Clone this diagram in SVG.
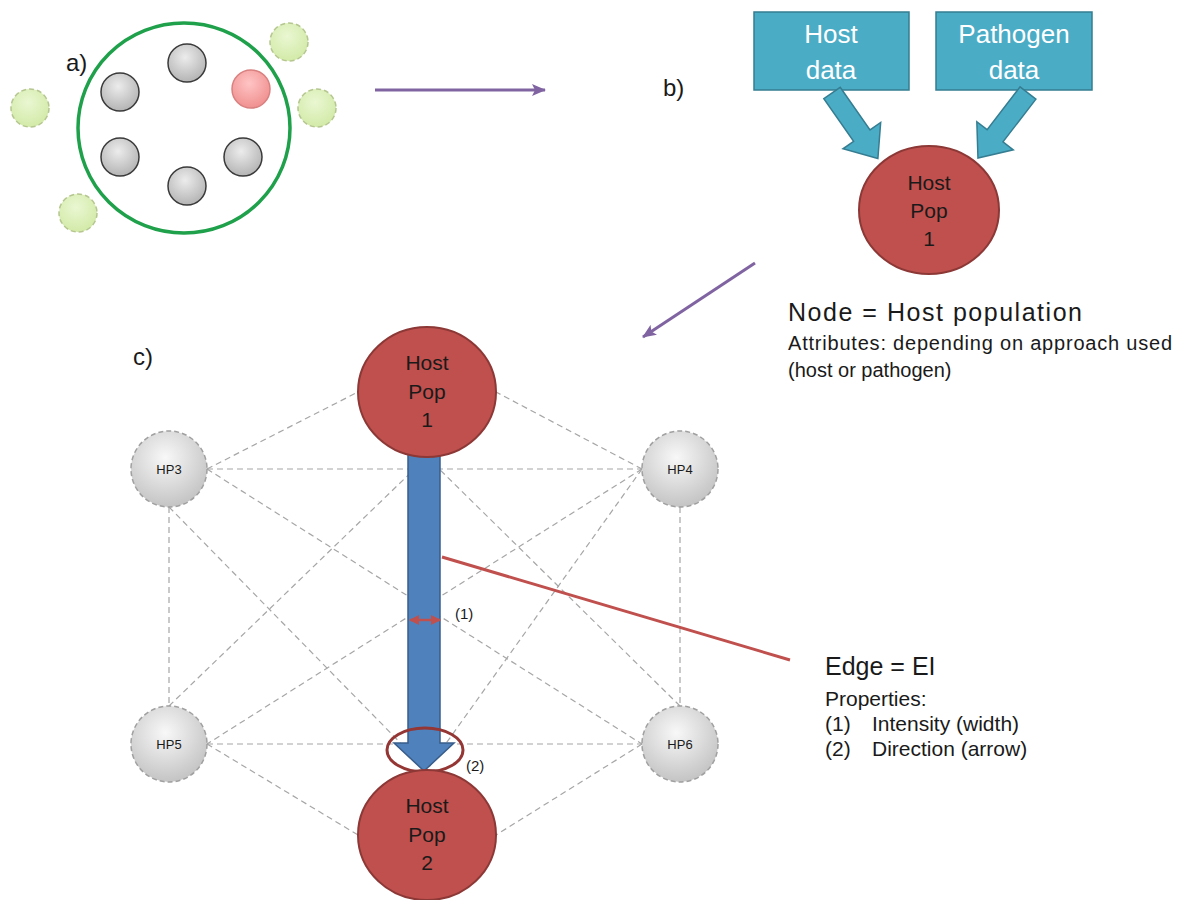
<svg xmlns="http://www.w3.org/2000/svg" width="1182" height="900" viewBox="0 0 1182 900">
<style>
text{font-family:"Liberation Sans",Arial,sans-serif;fill:#1a1a1a}
.lab{font-size:24px}
.gray{fill:url(#gA);stroke:#3a3a3a;stroke-width:1.5}
.pink{fill:url(#gP);stroke:#d98080;stroke-width:1.5}
.green{fill:url(#gG);stroke:#b5c690;stroke-width:1.5;stroke-dasharray:5 3}
.hp{fill:url(#gH);stroke:#a0a0a0;stroke-width:1.5;stroke-dasharray:5 3}
.hpt{font-size:13px;text-anchor:middle}
.pop{fill:#c0504d;stroke:#8c3836;stroke-width:2}
.popt{font-size:21px;text-anchor:middle}
.box{fill:#4bacc6;stroke:#357d91;stroke-width:1.5}
.boxt{font-size:26px;fill:#ffffff;text-anchor:middle}
.dash{stroke:#a6a6a6;stroke-width:1.2;stroke-dasharray:6 4;fill:none}
.purple{stroke:#8064a2;stroke-width:3;fill:none;marker-end:url(#mP)}
.leg{font-size:21px}
</style>
<defs>
<radialGradient id="gA" cx="45%" cy="35%" r="65%"><stop offset="0" stop-color="#ececec"/><stop offset="1" stop-color="#b4b4b4"/></radialGradient>
<radialGradient id="gP" cx="45%" cy="35%" r="65%"><stop offset="0" stop-color="#ffc4c4"/><stop offset="1" stop-color="#f09090"/></radialGradient>
<radialGradient id="gG" cx="45%" cy="35%" r="65%"><stop offset="0" stop-color="#eaf7d2"/><stop offset="1" stop-color="#d2eaa8"/></radialGradient>
<radialGradient id="gH" cx="45%" cy="35%" r="65%"><stop offset="0" stop-color="#f8f8f8"/><stop offset="1" stop-color="#c4c4c4"/></radialGradient>
<marker id="mP" markerUnits="userSpaceOnUse" markerWidth="14" markerHeight="12" refX="13" refY="6" orient="auto"><path d="M0,0 L14,6 L0,12 L3,6 z" fill="#8064a2"/></marker>
<marker id="mR" markerUnits="userSpaceOnUse" markerWidth="10" markerHeight="10" refX="9" refY="5" orient="auto-start-reverse"><path d="M0,0 L10,5 L0,10 z" fill="#c0504d"/></marker>
</defs>

<!-- section a -->
<g id="panel-a">
<text class="lab" x="66" y="71">a)</text>
<ellipse cx="184" cy="128" rx="106" ry="105" fill="none" stroke="#1fa04a" stroke-width="3.5"/>
<circle class="gray" cx="187" cy="63" r="19"/>
<circle class="gray" cx="120" cy="92" r="19"/>
<circle class="gray" cx="120" cy="157" r="19"/>
<circle class="gray" cx="187" cy="186" r="19"/>
<circle class="gray" cx="243" cy="157" r="19"/>
<circle class="pink" cx="251" cy="89" r="19"/>
<circle class="green" cx="289" cy="42" r="19"/>
<circle class="green" cx="30" cy="108" r="19"/>
<circle class="green" cx="317" cy="108" r="19"/>
<circle class="green" cx="78" cy="213" r="19"/>
</g>

<g id="connectors-top">
<line class="purple" x1="375" y1="90" x2="545" y2="90"/>
<line class="purple" x1="755" y1="263" x2="643" y2="337"/>
</g>

<!-- section b -->
<g id="panel-b">
<text class="lab" x="663" y="96">b)</text>
<g id="host-data">
<rect class="box" x="754" y="12" width="155" height="78"/>
<text class="boxt" x="831" y="43">Host</text>
<text class="boxt" x="831" y="79">data</text>
</g>
<g id="pathogen-data">
<rect class="box" x="936" y="12" width="156" height="78"/>
<text class="boxt" x="1014" y="43">Pathogen</text>
<text class="boxt" x="1014" y="79">data</text>
</g>
<polygon class="box" transform="translate(832,93) rotate(55)" points="0,-10 52,-10 52,-23 80,0 52,23 52,10 0,10"/>
<polygon class="box" transform="translate(1028,93) rotate(127.6)" points="0,-10 54,-10 54,-23 82,0 54,23 54,10 0,10"/>
<g id="hostpop-b">
<ellipse class="pop" cx="929" cy="210" rx="70" ry="64"/>
<text class="popt" x="929" y="190">Host</text>
<text class="popt" x="929" y="218">Pop</text>
<text class="popt" x="929" y="246">1</text>
</g>
<text x="788" y="321" font-size="25" textLength="294" lengthAdjust="spacing">Node = Host population</text>
<text x="788" y="350" font-size="20" textLength="384" lengthAdjust="spacing">Attributes: depending on approach used</text>
<text x="788" y="377" font-size="20">(host or pathogen)</text>
</g>

<!-- section c -->
<text class="lab" x="133" y="365">c)</text>
<g id="edges">
<line class="dash" x1="207" y1="469" x2="358" y2="392"/>
<line class="dash" x1="642" y1="469" x2="496" y2="392"/>
<line class="dash" x1="207" y1="469" x2="642" y2="469"/>
<line class="dash" x1="207" y1="469" x2="642" y2="744"/>
<line class="dash" x1="642" y1="469" x2="207" y2="744"/>
<line class="dash" x1="169" y1="507" x2="169" y2="706"/>
<line class="dash" x1="680" y1="507" x2="680" y2="706"/>
<line class="dash" x1="169" y1="507" x2="427" y2="770"/>
<line class="dash" x1="642" y1="469" x2="427" y2="770"/>
<line class="dash" x1="169" y1="706" x2="427" y2="457"/>
<line class="dash" x1="680" y1="706" x2="427" y2="457"/>
<line class="dash" x1="207" y1="744" x2="642" y2="744"/>
<line class="dash" x1="207" y1="744" x2="358" y2="835"/>
<line class="dash" x1="642" y1="744" x2="496" y2="835"/>
<line x1="442" y1="557" x2="790" y2="660" stroke="#c0504d" stroke-width="3"/>
<polygon points="408,450 440,450 440,743 454,743 424,771 394,743 408,743" fill="#4f81bd" stroke="#385d8a" stroke-width="1.5"/>
<line x1="410" y1="620" x2="440" y2="620" stroke="#c0504d" stroke-width="2.5" marker-start="url(#mR)" marker-end="url(#mR)"/>
<ellipse cx="425" cy="750" rx="38" ry="22" fill="none" stroke="#943634" stroke-width="3"/>
</g>
<text x="455" y="619" font-size="15">(1)</text>
<text x="466" y="771" font-size="15">(2)</text>

<g id="hp1">
<ellipse class="pop" cx="427" cy="392" rx="69" ry="65"/>
<text class="popt" x="427" y="370">Host</text>
<text class="popt" x="427" y="399">Pop</text>
<text class="popt" x="427" y="427">1</text>
</g>
<g id="hp2">
<ellipse class="pop" cx="427" cy="835" rx="69" ry="65"/>
<text class="popt" x="427" y="813">Host</text>
<text class="popt" x="427" y="842">Pop</text>
<text class="popt" x="427" y="870">2</text>
</g>
<g id="hp3"><circle class="hp" cx="169" cy="469" r="38"/><text class="hpt" x="169" y="474">HP3</text></g>
<g id="hp4"><circle class="hp" cx="680" cy="469" r="38"/><text class="hpt" x="680" y="474">HP4</text></g>
<g id="hp5"><circle class="hp" cx="169" cy="744" r="38"/><text class="hpt" x="169" y="749">HP5</text></g>
<g id="hp6"><circle class="hp" cx="680" cy="744" r="38"/><text class="hpt" x="680" y="749">HP6</text></g>

<g id="edge-legend">
<text x="825" y="675" font-size="25">Edge = EI</text>
<text class="leg" x="825" y="706">Properties:</text>
<text class="leg" x="825" y="731">(1)</text>
<text class="leg" x="872" y="731">Intensity (width)</text>
<text class="leg" x="825" y="756">(2)</text>
<text class="leg" x="872" y="756">Direction (arrow)</text>
</g>
</svg>
